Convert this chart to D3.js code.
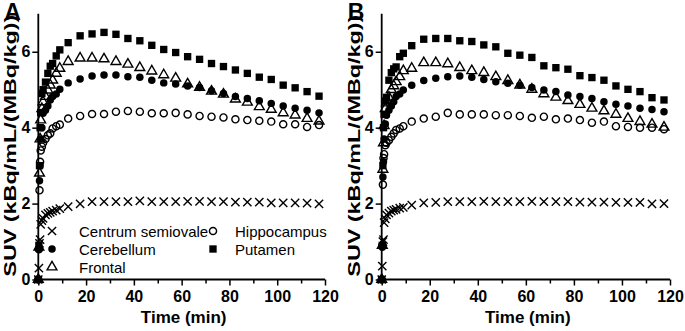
<!DOCTYPE html>
<html>
<head>
<meta charset="utf-8">
<script src="https://cdn.jsdelivr.net/npm/d3@7"></script>
<style>
  body { margin: 0; background: #fff; }
  svg { display: block; font-family: "Liberation Sans", Arial, sans-serif; }
</style>
</head>
<body>
<div id="chart"></div>
<script>
// frame mid-times (min)
const timesMin = [0, 0.25, 0.5, 0.75, 1, 1.5, 2, 3, 4, 5, 6, 7.5, 9,
    12.5, 17.5, 22.5, 27.5, 32.5, 37.5, 42.5, 47.5, 52.5, 57.5, 62.5, 67.5,
    72.5, 77.5, 82.5, 87.5, 92.5, 97.5, 102.5, 107.5, 112.5, 117.5];

// panel A
const aCentrum = [0, 0.3, 0.95, 1.05, 1.45, 1.55, 1.61, 1.7, 1.74, 1.77, 1.8, 1.83, 1.87,
    1.92, 1.99, 2.05, 2.05, 2.05, 2.05, 2.07, 2.05, 2.05, 2.05, 2.06, 2.06,
    2.05, 2.05, 2.04, 2.04, 2.04, 2.02, 2.02, 2.02, 2.01, 1.99];
const aCerebellum = [0, 0.8, 2.6, 3.0, 3.7, 4.0, 4.38, 4.46, 4.57, 4.73, 4.82, 4.89, 5.01,
    5.18, 5.28, 5.36, 5.39, 5.39, 5.34, 5.33, 5.25, 5.18, 5.15, 5.10, 5.06,
    4.97, 4.90, 4.82, 4.77, 4.71, 4.64, 4.57, 4.51, 4.46, 4.39];
const aFrontal = [0, 0.85, 2.8, 3.7, 4.2, 4.5, 4.68, 4.82, 4.99, 5.12, 5.25, 5.43, 5.56,
    5.74, 5.83, 5.83, 5.81, 5.74, 5.67, 5.58, 5.49, 5.39, 5.30, 5.15, 5.06,
    4.96, 4.88, 4.75, 4.67, 4.55, 4.48, 4.39, 4.33, 4.24, 4.17];
const aHippocampus = [0, 0.8, 2.35, 3.1, 3.4, 3.5, 3.6, 3.7, 3.8, 3.85, 3.98, 4.04, 4.08,
    4.24, 4.31, 4.36, 4.36, 4.42, 4.44, 4.42, 4.38, 4.38, 4.39, 4.35, 4.31,
    4.29, 4.27, 4.22, 4.20, 4.18, 4.16, 4.09, 4.09, 4.02, 4.07];
const aPutamen = [0, 0.9, 3.0, 4.0, 4.4, 4.9, 5.0, 5.2, 5.43, 5.62, 5.69, 5.89, 6.05,
    6.24, 6.42, 6.47, 6.51, 6.46, 6.35, 6.29, 6.17, 6.06, 5.98, 5.87, 5.80,
    5.69, 5.61, 5.52, 5.43, 5.33, 5.27, 5.12, 5.05, 4.95, 4.83];

// panel B
const bCentrum = [0, 0.35, 1.0, 1.05, 1.5, 1.6, 1.7, 1.75, 1.8, 1.83, 1.85, 1.88, 1.9,
    1.96, 2.02, 2.03, 2.05, 2.05, 2.05, 2.06, 2.05, 2.05, 2.05, 2.06, 2.05,
    2.05, 2.05, 2.04, 2.04, 2.04, 2.03, 2.03, 2.03, 1.99, 2.0];
const bCerebellum = [0, 0.85, 2.7, 3.1, 3.7, 4.1, 4.33, 4.46, 4.57, 4.68, 4.82, 4.89, 4.99,
    5.12, 5.24, 5.30, 5.34, 5.36, 5.33, 5.27, 5.21, 5.17, 5.12, 5.06, 4.99,
    4.95, 4.86, 4.82, 4.77, 4.68, 4.62, 4.57, 4.51, 4.48, 4.42];
const bFrontal = [0, 0.9, 2.9, 3.6, 4.05, 4.5, 4.65, 4.8, 5.0, 5.1, 5.21, 5.34, 5.5,
    5.56, 5.71, 5.71, 5.68, 5.58, 5.50, 5.45, 5.34, 5.24, 5.12, 5.01, 4.89,
    4.80, 4.71, 4.61, 4.51, 4.44, 4.35, 4.24, 4.16, 4.09, 4.01];
const bHippocampus = [0, 0.9, 2.5, 3.2, 3.3, 3.54, 3.6, 3.67, 3.76, 3.85, 3.94, 3.98, 4.04,
    4.16, 4.24, 4.29, 4.39, 4.35, 4.35, 4.35, 4.33, 4.33, 4.31, 4.26, 4.29,
    4.22, 4.24, 4.20, 4.13, 4.16, 4.04, 4.02, 4.00, 4.00, 3.96];
const bPutamen = [0, 0.9, 3.0, 4.0, 4.35, 4.7, 4.8, 5.25, 5.45, 5.55, 5.6, 5.87, 5.96,
    6.16, 6.33, 6.35, 6.35, 6.29, 6.27, 6.18, 6.13, 5.96, 5.91, 5.85, 5.63,
    5.58, 5.54, 5.37, 5.32, 5.25, 5.10, 5.01, 4.95, 4.79, 4.73];

const regionNames = ["Centrum semiovale", "Cerebellum", "Frontal", "Hippocampus", "Putamen"];
const xTicks = [0, 20, 40, 60, 80, 100, 120];
const yTicks = [0, 2, 4, 6];

let width = 685, height = 331;

let svg = d3.select("#chart")
    .append("svg")
        .attr("width", width)
        .attr("height", height);

// marker style for each region
let markers = {
    "Centrum semiovale": {type: d3.symbolX, size: 46, fill: "none", stroke: "#000"},
    "Cerebellum": {type: d3.symbolCircle, size: 44, fill: "#000", stroke: "none"},
    "Frontal": {type: d3.symbolTriangle, size: 42, fill: "none", stroke: "#000"},
    "Hippocampus": {type: d3.symbolCircle, size: 40, fill: "none", stroke: "#000"},
    "Putamen": {type: d3.symbolSquare, size: 54, fill: "#000", stroke: "none"}
};

function symbolPath(name){
    return d3.symbol().type(markers[name].type).size(markers[name].size)();
}

function drawPanel(left, right, letter, seriesList, withLegend){
    let top = 13.8, bottom = 279.5;

    let xScale = d3.scaleLinear().domain([0, 120]).range([left, right]);
    let yScale = d3.scaleLinear().domain([0, 7]).range([bottom, top]);

    let g = svg.append("g");

    // points
    seriesList.forEach((values, i) => {
        let name = regionNames[i];
        let m = markers[name];
        g.append("g").selectAll("path")
            .data(values.map((v, j) => ({t: timesMin[j], v: v})))
            .enter()
            .append("path")
                .attr("d", symbolPath(name))
                .attr("transform", d => "translate(" + xScale(d.t) + "," + yScale(d.v) + ")")
                .attr("fill", m.fill)
                .attr("stroke", m.stroke)
                .attr("stroke-width", 1.4);
    });

    // x axis with minor ticks
    let xAxis = g.append("g")
        .attr("transform", "translate(0," + bottom + ")")
        .call(d3.axisBottom(xScale).tickValues(xTicks).tickSize(6).tickPadding(5).tickFormat(d3.format("d")));
    g.append("g")
        .attr("transform", "translate(0," + bottom + ")")
        .call(d3.axisBottom(xScale).tickValues([10, 30, 50, 70, 90, 110]).tickSize(4).tickFormat(""))
        .select(".domain").remove();

    let yAxis = g.append("g")
        .attr("transform", "translate(" + left + ",0)")
        .call(d3.axisLeft(yScale).tickValues(yTicks).tickSize(6).tickPadding(2).tickFormat(d3.format("d")));

    [xAxis, yAxis].forEach(a => {
        a.selectAll("text")
            .style("font-size", "16px")
            .style("font-weight", "bold")
            .attr("fill", "#000");
    });
    g.selectAll(".domain").attr("stroke-width", 1.8);
    g.selectAll(".tick line").attr("stroke-width", 1.5);

    // make domain lines exact (no outer ticks)
    xAxis.select(".domain").attr("d", "M" + left + ",0H" + right);
    yAxis.select(".domain").attr("d", "M0," + bottom + "V" + top);

    // axis titles
    g.append("text")
        .attr("x", (left + right) / 2 + 2)
        .attr("y", 323)
        .attr("text-anchor", "middle")
        .style("font-size", "17px")
        .style("font-weight", "bold")
        .text("Time (min)");

    g.append("text")
        .attr("transform", "translate(" + (left - 22) + "," + ((top + bottom) / 2 - 1) + ") rotate(-90)")
        .attr("text-anchor", "middle")
        .attr("textLength", 262)
        .attr("lengthAdjust", "spacingAndGlyphs")
        .style("font-size", "16px")
        .style("font-weight", "bold")
        .text("SUV (kBq/mL/(MBq/kg))");

    g.append("text")
        .attr("x", left - 34)
        .attr("y", 20)
        .style("font-size", "23px")
        .style("font-weight", "bold")
        .text(letter);

    if (withLegend){
        let legendItems = [
            {name: "Centrum semiovale", sx: 52, lx: 79, y: 231},
            {name: "Cerebellum", sx: 52, lx: 79, y: 249},
            {name: "Frontal", sx: 52, lx: 79, y: 267},
            {name: "Hippocampus", sx: 213, lx: 235, y: 231},
            {name: "Putamen", sx: 213, lx: 235, y: 249}
        ];
        let lg = g.append("g");
        legendItems.forEach(item => {
            let m = markers[item.name];
            lg.append("path")
                .attr("d", symbolPath(item.name))
                .attr("transform", "translate(" + item.sx + "," + item.y + ")")
                .attr("fill", m.fill)
                .attr("stroke", m.stroke)
                .attr("stroke-width", 1.4);
            lg.append("text")
                .attr("x", item.lx)
                .attr("y", item.y + 5.5)
                .style("font-size", "15px")
                .text(item.name);
        });
    }
}

drawPanel(38.3, 325, "A", [aCentrum, aCerebellum, aFrontal, aHippocampus, aPutamen], true);
drawPanel(381.7, 670, "B", [bCentrum, bCerebellum, bFrontal, bHippocampus, bPutamen], false);
</script>
</body>
</html>
